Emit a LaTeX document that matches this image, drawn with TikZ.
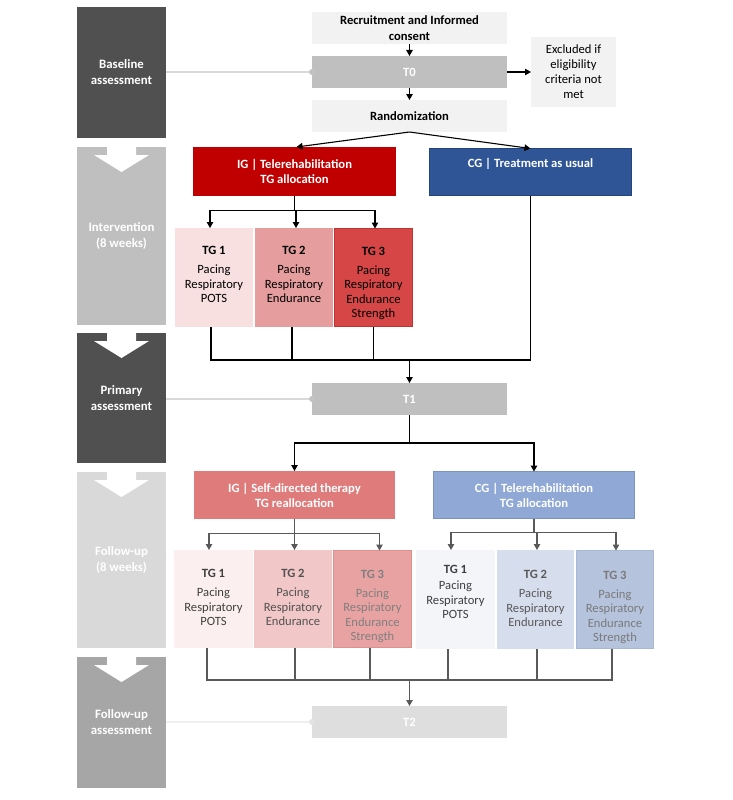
\documentclass[tikz,border=0pt]{standalone}
\usepackage{fontspec}
\setmainfont{Carlito}
\usetikzlibrary{arrows.meta,calc}
\definecolor{cDark}{HTML}{505050}
\definecolor{cIntv}{HTML}{BFBFBF}
\definecolor{cFu}{HTML}{D9D9D9}
\definecolor{cFua}{HTML}{A6A6A6}
\definecolor{cLight}{HTML}{F2F2F2}
\definecolor{cT}{HTML}{BFBFBF}
\definecolor{cTtwo}{HTML}{DEDEDE}
\definecolor{cIGa}{HTML}{C00000}
\definecolor{cCGa}{HTML}{2F5597}
\definecolor{cCGaB}{HTML}{24447C}
\definecolor{cIGb}{HTML}{E07B7B}
\definecolor{cCGb}{HTML}{8FA8D6}
\definecolor{cCGbB}{HTML}{7B93C0}
\definecolor{cTAa}{HTML}{F9E0E0}
\definecolor{cTAb}{HTML}{E69D9D}
\definecolor{cTAc}{HTML}{D64646}
\definecolor{cTAcB}{HTML}{C03333}
\definecolor{cTBa}{HTML}{FCEFEF}
\definecolor{cTBb}{HTML}{F2C7C7}
\definecolor{cTBc}{HTML}{E9A2A2}
\definecolor{cTBcB}{HTML}{DD9090}
\definecolor{cTCa}{HTML}{F3F5F9}
\definecolor{cTCb}{HTML}{D6DDED}
\definecolor{cTCc}{HTML}{B5C3DD}
\definecolor{cTCcB}{HTML}{A9B8D4}
\definecolor{cLine}{HTML}{595959}
\definecolor{cSl}{HTML}{D9D9D9}
\definecolor{cSlb}{HTML}{EFEFEF}
\newcommand\tgtxt[5]{\parbox[c][#1][t]{77pt}{\centering\vspace*{#2}\textbf{#3}\\[#4]#5}}
\begin{document}
\begin{tikzpicture}[x=1pt,y=-1pt,
  base/.style={inner sep=0pt, outer sep=0pt, align=center, font=\fontsize{12.6}{14.5}\selectfont},
  side/.style={base, minimum width=89pt, text=white, font=\bfseries\fontsize{12.8}{16}\selectfont},
  cbox/.style={base, minimum width=195pt, minimum height=32pt, font=\bfseries\fontsize{12.6}{16}\selectfont},
  grp/.style={base, text=white, font=\bfseries\fontsize{12.6}{15}\selectfont},
  tgb/.style={inner sep=0pt, outer sep=0pt, font=\fontsize{12.6}{14.5}\selectfont},
  conn/.style={line width=1.1pt, black},
  arr/.style={conn, -{Triangle[length=6pt,width=6.5pt]}},
  gconn/.style={line width=1.1pt, cLine},
  garr/.style={gconn, -{Triangle[length=6pt,width=6.5pt]}},
  sline/.style={line width=1.5pt}
]
\useasboundingbox (0,0) rectangle (733,800);

% left column
\node[side, fill=cDark, minimum height=131pt] (lb1) at (121.5,72.5) {Baseline\\assessment};
\node[side, fill=cIntv, minimum height=178pt] (lb2) at (121.5,236) {Intervention\\(8 weeks)};
\node[side, fill=cDark, minimum height=130pt] (lb3) at (121.5,398) {Primary\\assessment};
\node[side, fill=cFu, minimum height=176pt] (lb4) at (121.5,560) {Follow-up\\(8 weeks)};
\node[side, fill=cFua, minimum height=131pt] (lb5) at (121.5,722.5) {Follow-up\\assessment};
\foreach \n in {lb2,lb3,lb4,lb5}
  \fill[white] (\n.north) ++(-14.5,0) -- ++(29,0) -- ++(0,8) -- ++(13,0) -- ++(-27.5,17) -- ++(-27.5,-17) -- ++(13,0) -- cycle;

% centre column
\node[cbox, fill=cLight] (rec) at (409.5,28) {Recruitment and Informed\\consent};
\node[cbox, fill=cT, text=white] (t0) at (409.5,72) {T0};
\node[cbox, fill=cLight] (rand) at (409.5,116) {Randomization};
\node[base, fill=cLight, minimum width=85pt, minimum height=70pt, font=\fontsize{12.6}{15}\selectfont] (excl) at (573.5,72) {Excluded if\\eligibility\\criteria not\\met};

\node[grp, fill=cIGa, minimum width=203pt, minimum height=49pt] (ig1) at (294.5,171.5) {IG | Telerehabilitation\\TG allocation};
\node[grp, fill=cCGa, draw=cCGaB, line width=0.8pt, minimum width=202pt, minimum height=47pt, text height=9pt, text depth=18pt] (cg1) at (530.5,172) {CG | Treatment as usual};

\node[tgb, fill=cTAa, minimum width=78pt, minimum height=99pt] (ta1) at (214,277.5) {\tgtxt{99pt}{18.5pt}{TG 1}{4.5pt}{Pacing\\Respiratory\\POTS}};
\node[tgb, fill=cTAb, minimum width=78pt, minimum height=99pt] (ta2) at (294,277.5) {\tgtxt{99pt}{18.5pt}{TG 2}{4.5pt}{Pacing\\Respiratory\\Endurance}};
\node[tgb, fill=cTAc, draw=cTAcB, line width=0.6pt, minimum width=78pt, minimum height=98pt] (ta3) at (373.5,277.5) {\tgtxt{98pt}{18.5pt}{TG 3}{4.5pt}{Pacing\\Respiratory\\Endurance\\Strength}};

\node[cbox, fill=cT, text=white] (t1) at (409.5,399) {T1};

\node[grp, fill=cIGb, minimum width=201pt, minimum height=48pt] (ig2) at (294.5,495) {IG | Self-directed therapy\\TG reallocation};
\node[grp, fill=cCGb, draw=cCGbB, line width=0.6pt, minimum width=201pt, minimum height=47pt] (cg2) at (534,495) {CG | Telerehabilitation\\TG allocation};

\node[tgb, fill=cTBa, text=black!75, minimum width=79pt, minimum height=98pt] (tb1) at (213.5,599) {\tgtxt{98pt}{19.5pt}{TG 1}{4.5pt}{Pacing\\Respiratory\\POTS}};
\node[tgb, fill=cTBb, text=black!68, minimum width=78pt, minimum height=98pt] (tb2) at (293,599) {\tgtxt{98pt}{19.5pt}{TG 2}{4.5pt}{Pacing\\Respiratory\\Endurance}};
\node[tgb, fill=cTBc, draw=cTBcB, line width=0.6pt, text=black!50, minimum width=78pt, minimum height=97pt] (tb3) at (372.5,599) {\tgtxt{97pt}{19.5pt}{TG 3}{4.5pt}{Pacing\\Respiratory\\Endurance\\Strength}};

\node[tgb, fill=cTCa, text=black!75, minimum width=79pt, minimum height=99pt] (tc1) at (455.5,599.5) {\tgtxt{99pt}{15.5pt}{TG 1}{1.5pt}{Pacing\\Respiratory\\POTS}};
\node[tgb, fill=cTCb, text=black!65, minimum width=77pt, minimum height=99pt] (tc2) at (535.5,599.5) {\tgtxt{99pt}{20.5pt}{TG 2}{4.5pt}{Pacing\\Respiratory\\Endurance}};
\node[tgb, fill=cTCc, draw=cTCcB, line width=0.6pt, text=black!52, minimum width=77pt, minimum height=98pt] (tc3) at (615,599.5) {\tgtxt{98pt}{20.5pt}{TG 3}{4.5pt}{Pacing\\Respiratory\\Endurance\\Strength}};

\node[cbox, fill=cTtwo, text=white] (t2) at (409.5,722) {T2};

% side links
\draw[sline, cSl] (lb1.east |- t0.west) -- (t0.west);
\fill[cSl!90!black] (t0.west) circle (3pt);
\draw[sline, cSl] (lb3.east |- t1.west) -- (t1.west);
\fill[cSl!90!black] (t1.west) circle (3pt);
\draw[sline, cSlb] (lb5.east |- t2.west) -- (t2.west);
\fill[cSlb!95!black] (t2.west) circle (3pt);

% top flow
\draw[arr] (rec.south) -- (t0.north);
\draw[arr] (t0.south) -- (rand.north);
\draw[arr] (t0.east) -- (excl.west);
\draw[arr] (rand.south) -- ([xshift=2pt]ig1.north);
\draw[arr] (rand.south) -- (cg1.north);

\coordinate (s1) at (294.5,210.5);
\draw[conn] (ig1.south) -- (s1);
\draw[arr] (s1) -| ([xshift=-4pt]ta1.north);
\draw[arr] (s1) -| ([xshift=1.5pt]ta3.north);
\draw[arr] (s1) -| ([xshift=2pt]ta2.north);

\coordinate (j1) at (409.5,360);
\draw[conn] ([xshift=-3pt]ta1.south) |- (j1 -| cg1.south) -- (cg1.south);
\draw[conn] ([xshift=-2pt]ta2.south) -- ([xshift=-2pt]ta2.south |- j1);
\draw[conn] (ta3.south) -- (ta3.south |- j1);
\draw[arr] (j1) -- (t1.north);

\coordinate (s2) at (409.5,443);
\draw[conn] (t1.south) -- (s2);
\draw[arr] (s2) -| (ig2.north);
\draw[arr] (s2) -| (cg2.north);

% follow-up allocation
\coordinate (s3) at (294.5,533.5);
\draw[gconn] (ig2.south) -- (s3);
\draw[garr] (s3) -| ([xshift=-4.5pt]tb1.north);
\draw[garr] (s3) -| ([xshift=1.5pt]tb2.north);
\draw[garr] (s3) -| ([xshift=7pt]tb3.north);

\coordinate (s4) at (534,532.5);
\draw[gconn] (cg2.south) -- (s4);
\draw[garr] (s4) -| ([xshift=-4.5pt]tc1.north);
\draw[garr] (s4) -| ([xshift=1.5pt]tc2.north);
\draw[garr] (s4) -| ([xshift=1pt]tc3.north);

% bottom merge
\coordinate (j2) at (409.5,680);
\draw[gconn] ([xshift=-6.5pt]tb1.south) |- ([xshift=-3pt]tc3.south |- j2) -- ([xshift=-3pt]tc3.south);
\draw[gconn] ([xshift=2pt]tb2.south) -- ([xshift=2pt]tb2.south |- j2);
\draw[gconn] ([xshift=-2.5pt]tb3.south) -- ([xshift=-2.5pt]tb3.south |- j2);
\draw[gconn] ([xshift=-7.5pt]tc1.south) -- ([xshift=-7.5pt]tc1.south |- j2);
\draw[gconn] ([xshift=1.5pt]tc2.south) -- ([xshift=1.5pt]tc2.south |- j2);
\draw[garr] (j2) -- (t2.north);
\end{tikzpicture}
\end{document}
